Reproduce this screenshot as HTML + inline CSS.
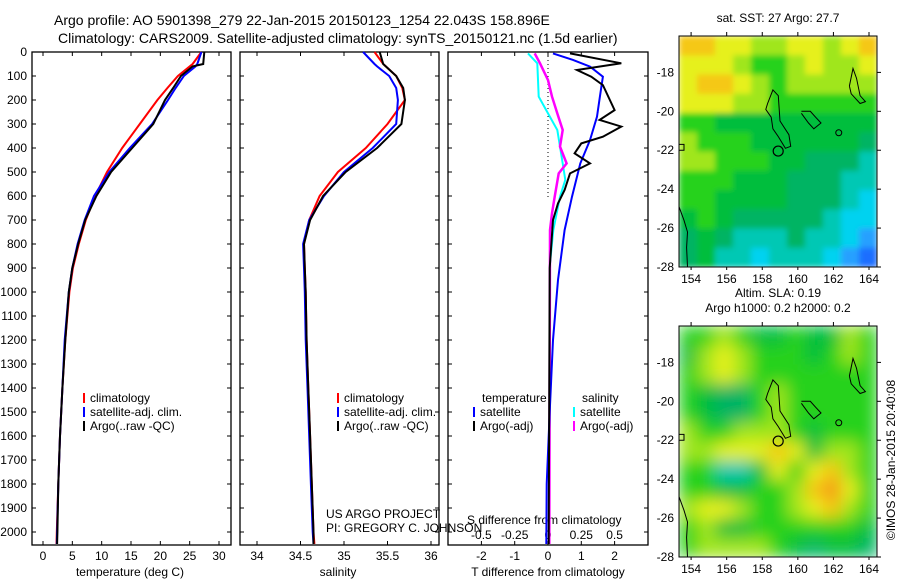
<!DOCTYPE html>
<html><head><meta charset="utf-8"><style>
html,body{margin:0;padding:0;background:#fff;}
svg{display:block;font-family:"Liberation Sans",sans-serif;}
text{fill:#000;}
</style></head><body>
<svg id="fig" width="900" height="580" viewBox="0 0 900 580" xmlns="http://www.w3.org/2000/svg">
<defs>
<filter id="blurS" x="-5%" y="-5%" width="110%" height="110%"><feGaussianBlur stdDeviation="3" edgeMode="duplicate"/></filter>
<filter id="blurL" x="-5%" y="-5%" width="110%" height="110%"><feGaussianBlur stdDeviation="8" edgeMode="duplicate"/></filter>
<clipPath id="clip1"><rect x="679" y="36" width="198" height="231"/></clipPath>
<clipPath id="clip2"><rect x="679" y="326" width="198" height="231"/></clipPath>
</defs>
<text x="54" y="25" font-size="14">Argo profile: AO 5901398_279 22-Jan-2015 20150123_1254 22.043S 158.896E</text>
<text x="58" y="43" font-size="14">Climatology: CARS2009. Satellite-adjusted climatology: synTS_20150121.nc (1.5d earlier)</text>
<g id="g"></g>
</svg>
<script>
// ---- data ----
const depthTicks=[0,100,200,300,400,500,600,700,800,900,1000,1100,1200,1300,1400,1500,1600,1700,1800,1900,2000];
const tempTicks=[0,5,10,15,20,25,30];
const salTicks=[34,34.5,35,35.5,36];
const tdiffTicks=[-2,-1,0,1,2];
const sdiffTicks=[-0.5,-0.25,0,0.25,0.5];
const sdiffLabels=["-0.5","-0.25","0","0.25","0.5"];
const profDepth=[0,50,60,100,150,200,300,400,500,600,700,800,900,1000,1200,1400,1600,1800,2000,2050];
const tempClim=[27,25.5,25,23,21.2,19.5,16.5,13.5,10.9,8.9,7.3,6.1,5.1,4.5,3.8,3.3,2.9,2.6,2.35,2.3];
const tempSat=[27,26.3,26,24,22.6,21.3,18.6,14.8,11.3,8.7,7.1,5.9,5.0,4.4,3.7,3.3,2.9,2.6,2.4,2.35];
const tempArgo=[27.5,27.3,25.5,23.5,22.2,20.8,18.8,15.2,11.6,9.1,7.2,6.0,5.0,4.4,3.8,3.3,2.9,2.6,2.45,2.4];
const salClim=[35.35,35.45,35.48,35.6,35.67,35.7,35.5,35.25,34.93,34.72,34.6,34.54,34.55,34.56,34.57,34.59,34.61,34.63,34.65,34.66];
const salSat=[35.22,35.35,35.38,35.52,35.6,35.62,35.6,35.33,35.0,34.77,34.6,34.53,34.54,34.55,34.56,34.58,34.6,34.62,34.64,34.65];
const salArgo=[35.41,35.45,35.48,35.6,35.68,35.7,35.66,35.38,35.02,34.76,34.61,34.54,34.55,34.56,34.57,34.59,34.61,34.63,34.65,34.65];
const tdArgoDepth=[6,47,75,103,138,242,283,311,353,381,422,464,506,575,631,700,900,2050];
const tdArgo=[0.66,2.2,0.87,1.3,1.65,2.0,1.55,2.2,1.65,1.0,0.8,1.26,0.66,0.5,0.3,0.15,0.05,0.02];
const tdSatDepth=[6,33,61,103,186,269,367,464,603,742,950,1200,1500,1800,2050];
const tdSat=[0.15,0.75,1.26,1.65,1.56,1.47,1.26,0.97,0.72,0.5,0.3,0.15,0.05,-0.04,-0.05];
const sdArgoDepth=[6,47,117,186,256,325,394,464,506,603,672,742,2050];
const sdArgo=[-0.1,-0.06,0,0.03,0.07,0.11,0.09,0.14,0.08,0.05,0.03,0.015,0.01];
const sdSatDepth=[6,47,186,256,325,464,533,603,742,881,2050];
const sdSat=[-0.15,-0.08,-0.07,0,0.07,0.11,0.13,0.09,0.04,0.015,0.01];
const mapLonTicks=[154,156,158,160,162,164];
const mapLatTicks=[18,20,22,24,26,28];
const sstGrid=[
[9,9,8,8,7,7,8,8,7,8,9],[8,8,8,7,6,6,7,8,7,7,8],[8,9,9,8,7,6,7,7,7,7,7],[8,8,8,7,7,6,6,6,6,6,6],
[6,6,5,5,5,5,5,5,5,5,5],[7,6,6,6,5,5,5,5,5,5,4],[7,7,6,6,6,5,5,4,4,4,3],[6,6,6,5,5,5,4,4,4,3,3],
[6,6,5,5,5,5,4,4,4,3,2],[5,6,5,4,4,4,4,4,3,2,2],[4,5,4,3,3,3,4,3,3,2,1],[4,5,3,3,2,3,3,3,2,1,0]];
const slaGrid=[
[6,6,7,6,5,5,6,5,5,7,6],[5,7,8,7,6,6,6,5,6,7,6],[6,7,8,7,6,6,6,6,6,6,6],[6,5,4,4,6,7,6,6,6,6,6],
[6,5,4,4,6,7,6,6,6,6,6],[7,6,6,7,7,7,6,5,6,6,6],[7,7,8,8,8,9,8,5,7,7,6],[6,6,3,3,5,8,6,8,9,7,6],
[6,6,5,5,6,6,7,9,10,8,6],[7,8,8,7,6,6,7,8,9,7,6],[6,7,5,5,6,6,6,6,6,6,5],[6,7,7,7,7,6,5,4,5,5,4]];
const palette=["#1e6eff","#28a0ff","#00d2f0","#00c8b4","#00b464","#00be3c","#28d21e","#a0e61e","#e6f01e","#f5c814","#f59614"];
// ---- drawing ----
const NS="http://www.w3.org/2000/svg";const G=document.getElementById('g');
function mk(t,a,p){const e=document.createElementNS(NS,t);for(const k in a)e.setAttribute(k,a[k]);(p||G).appendChild(e);return e;}
function txt(s,x,y,anc,fs,p){const e=mk('text',{x:x,y:y,'text-anchor':anc||'start','font-size':fs||12},p);e.textContent=s;return e;}
const yD=d=>52+d*0.24;
const xT=v=>43+v*5.867, xS=v=>257+(v-34)*87, xTD=v=>548+v*33.3, xSD=v=>548+v*133.2;
const T=52,B=545;
function frame(l,r,name){const e=mk('rect',{x:l,y:T,width:r-l,height:B-T,fill:'none',stroke:'#000','stroke-width':1.3});}
function line(xs,ds,fx,col,w,name){const pts=xs.map((v,i)=>fx(v).toFixed(1)+','+yD(ds[i]).toFixed(1)).join(' ');const e=mk('polyline',{points:pts,fill:'none',stroke:col,'stroke-width':w||2});}
frame(32,231,'temperature-panel');frame(240,439,'salinity-panel');frame(448,648,'difference-panel');
depthTicks.forEach(d=>{const y=yD(d);const t=txt(String(d),27,y+4,'end',12);
[[32,231],[240,439],[448,648]].forEach(([l,r])=>{mk('line',{x1:l,x2:l+4,y1:y,y2:y,stroke:'#000'});mk('line',{x1:r-4,x2:r,y1:y,y2:y,stroke:'#000'});});});
tempTicks.forEach(v=>{const x=xT(v);mk('line',{x1:x,x2:x,y1:T,y2:T+4,stroke:'#000'});mk('line',{x1:x,x2:x,y1:B-4,y2:B,stroke:'#000'});const t=txt(String(v),x,560,'middle',12);});
salTicks.forEach(v=>{const x=xS(v);mk('line',{x1:x,x2:x,y1:T,y2:T+4,stroke:'#000'});mk('line',{x1:x,x2:x,y1:B-4,y2:B,stroke:'#000'});const t=txt(String(v),x,560,'middle',12);});
tdiffTicks.forEach(v=>{const x=xTD(v);mk('line',{x1:x,x2:x,y1:T,y2:T+4,stroke:'#000'});mk('line',{x1:x,x2:x,y1:B-4,y2:B,stroke:'#000'});const t=txt(String(v),x,560,'middle',12);});
sdiffTicks.forEach((v,i)=>{const t=txt(sdiffLabels[i],xSD(v),539,'middle',12);});
let e;
e=txt('temperature (deg C)',130,576,'middle',12);
e=txt('salinity',338,576,'middle',12);
e=txt('T difference from climatology',548,576,'middle',12);
e=txt('S difference from climatology',467,524,'start',12);
e=txt('US ARGO PROJECT',326,518,'start',12);
e=txt('PI: GREGORY C. JOHNSON',326,532,'start',12);
e=mk('line',{x1:548,x2:548,y1:T,y2:200,stroke:'#000','stroke-dasharray':'1,3'});
line(tempClim,profDepth,xT,'#ff0000',2,'temp-climatology-line');
line(tempSat,profDepth,xT,'#0000ff',2,'temp-satellite-line');
line(tempArgo,profDepth,xT,'#000000',2,'temp-argo-line');
line(salClim,profDepth,xS,'#ff0000',2,'sal-climatology-line');
line(salSat,profDepth,xS,'#0000ff',2,'sal-satellite-line');
line(salArgo,profDepth,xS,'#000000',2,'sal-argo-line');
line(sdSat,sdSatDepth,xSD,'#00ffff',2,'s-diff-satellite-line');
line(sdArgo,sdArgoDepth,xSD,'#ff00ff',2.5,'s-diff-argo-line');
line(tdSat,tdSatDepth,xTD,'#0000ff',2,'t-diff-satellite-line');
line(tdArgo,tdArgoDepth,xTD,'#000000',2,'t-diff-argo-line');
function leg(x,y,col,label,name){const g=mk('g',{});mk('rect',{x:x,y:y-9,width:2,height:10,fill:col},g);txt(label,x+7,y,'start',12,g);}
leg(83,402,'#ff0000','climatology','legend-climatology');leg(83,416,'#0000ff','satellite-adj. clim.','legend-satellite-adj');leg(83,430,'#000','Argo(..raw -QC)','legend-argo');
leg(337,402,'#ff0000','climatology','legend-climatology-sal');leg(337,416,'#0000ff','satellite-adj. clim.','legend-satellite-adj-sal');leg(337,430,'#000','Argo(..raw -QC)','legend-argo-sal');
e=txt('temperature',482,402,'start',12);
e=txt('salinity',582,402,'start',12);
leg(473,416,'#0000ff','satellite','legend-t-satellite');leg(473,430,'#000','Argo(-adj)','legend-t-argo');
leg(573,416,'#00ffff','satellite','legend-s-satellite');leg(573,430,'#ff00ff','Argo(-adj)','legend-s-argo');
const ML=679,MR=877,LON0=153.32,LON1=164.45,LAT0=16.13,LAT1=28;
function drawMap(top,grid,name,title,clip,filt){
 const bot=top+231;const xL=lon=>ML+(lon-LON0)/(LON1-LON0)*(MR-ML);const yL=lat=>top+(lat-LAT0)/(LAT1-LAT0)*(bot-top);
 const g=mk('g',{});
 const cg=mk('g',{'clip-path':'url(#'+clip+')'},g);const fg=mk('g',{filter:'url(#'+filt+')'},cg);
 const nr=grid.length,nc=grid[0].length;
 grid.forEach((row,r)=>row.forEach((v,c)=>{const lo=LON0+c*(LON1-LON0)/nc,la=LAT0+r*(LAT1-LAT0)/nr;
  const cell=mk('rect',{x:xL(lo).toFixed(2),y:yL(la).toFixed(2),width:((MR-ML)/nc+0.6).toFixed(2),height:((bot-top)/nr+0.6).toFixed(2),fill:palette[v]},fg);
  }));
 const coasts=[[[158.3,19.6],[158.6,18.9],[158.9,19.2],[159.0,20.5],[159.5,21.2],[159.6,21.8],[159.3,21.9],[158.9,21.3],[158.6,20.9],[158.5,20.3],[158.2,19.9],[158.3,19.6]],
 [[160.2,20.0],[160.7,20.0],[161.0,20.3],[161.3,20.6],[160.9,20.9],[160.6,20.6],[160.2,20.1]],
 [[162.9,18.7],[163.1,17.8],[163.3,18.3],[163.5,19.2],[163.8,19.5],[163.5,19.6],[163.0,19.1],[162.9,18.7]],
 [[153.32,24.9],[153.6,25.6],[153.8,26.2],[153.75,27.0],[153.8,28]],
 [[153.32,21.7],[153.6,21.7],[153.6,22.0],[153.32,22.0]]];
 coasts.forEach(cst=>{const p=mk('polyline',{points:cst.map(q=>xL(q[0]).toFixed(1)+','+yL(q[1]).toFixed(1)).join(' '),fill:'none',stroke:'#000','stroke-width':1},g);});
 const sm=mk('circle',{cx:xL(162.3),cy:yL(21.1),r:3,fill:'none',stroke:'#000'},g);
 const pc=mk('circle',{cx:xL(158.896),cy:yL(22.043),r:5,fill:'none',stroke:'#000','stroke-width':1.2},g);
 mk('rect',{x:ML,y:top,width:MR-ML,height:bot-top,fill:'none',stroke:'#000'},g);
 mapLonTicks.forEach(v=>{const x=xL(v);mk('line',{x1:x,x2:x,y1:top-4,y2:top,stroke:'#000'},g);mk('line',{x1:x,x2:x,y1:bot,y2:bot+3,stroke:'#000'},g);const t=txt(String(v),x,bot+16,'middle',12,g);});
 mapLatTicks.forEach(v=>{const y=yL(v);mk('line',{x1:MR,x2:MR+4,y1:y,y2:y,stroke:'#000'},g);const t=txt('-'+v,674,y+4,'end',12,g);});
 title.forEach((s,i)=>{const t=txt(s,778,top-14-(title.length-1-i)*15,'middle',12,g);});
}
drawMap(36,sstGrid,'sst-map',['sat. SST: 27 Argo: 27.7'],'clip1','blurS');
drawMap(326,slaGrid,'sla-map',['Altim. SLA: 0.19','Argo h1000: 0.2 h2000: 0.2'],'clip2','blurL');
e=txt('©IMOS 28-Jan-2015 20:40:08',0,0,'middle',12);e.setAttribute('transform','translate(895,460) rotate(-90)');


</script>
</body></html>
